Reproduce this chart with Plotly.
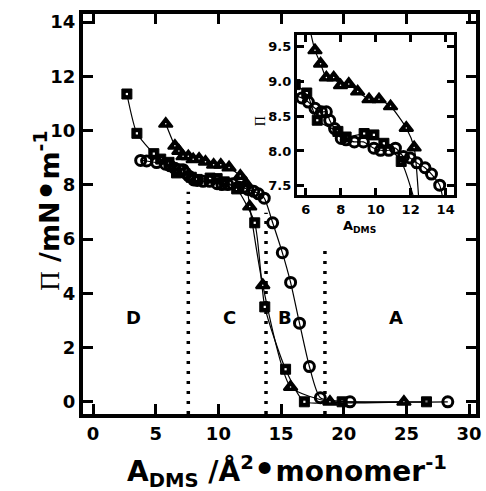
import plotly.graph_objects as go

# ---------------- data ----------------
sq_x = [2.7, 3.5, 4.85, 5.4, 6.06, 6.66, 7.84, 8.31, 9.34, 9.9, 10.47, 11.46, 12.9, 13.7, 15.36, 16.86, 19.87, 26.6]
sq_y = [11.35, 9.9, 9.15, 8.95, 8.83, 8.44, 8.28, 8.2, 8.25, 8.23, 8.11, 7.85, 6.6, 3.5, 1.2, 0.0, 0.0, 0.0]

tri_x = [5.8, 6.53, 6.85, 7.18, 7.6, 7.99, 8.46, 8.97, 9.62, 10.19, 10.85, 11.75, 12.2, 12.5, 13.54, 15.76, 18.9, 24.8]
tri_y = [10.25, 9.44, 9.25, 9.05, 9.05, 8.94, 8.96, 8.85, 8.74, 8.74, 8.64, 8.33, 8.05, 7.2, 4.3, 0.55, 0.0, 0.0]

cir_x = [3.8, 4.28, 5.07, 5.78, 6.15, 6.53, 6.9, 7.18, 7.37, 7.65, 8.03, 8.31, 8.78, 9.3, 9.9, 10.28,
         10.75, 11.13, 11.59, 11.97, 12.35, 12.82, 13.19, 13.66, 14.33, 15.1, 15.76, 16.47, 17.26,
         18.13, 20.5, 28.3]
cir_y = [8.9, 8.88, 8.82, 8.76, 8.7, 8.61, 8.56, 8.56, 8.44, 8.32, 8.18, 8.16, 8.13, 8.13, 8.04, 8.01,
         8.01, 8.04, 7.92, 7.9, 7.83, 7.76, 7.67, 7.51, 6.6, 5.5, 4.4, 2.9, 1.3,
         0.15, 0.0, 0.0]

region_labels = ["D", "C", "B", "A"]
region_label_x = [3.2, 10.9, 15.3, 24.2]
region_label_y = [3.1, 3.1, 3.1, 3.1]
boundary_x = [7.6, 13.8, 18.5]
boundary_top = [7.75, 6.97, 5.8]

main_xticks = [0, 5, 10, 15, 20, 25, 30]
main_yticks = [0, 2, 4, 6, 8, 10, 12, 14]
inset_xticks = [6, 8, 10, 12, 14]
inset_yticks = [7.5, 8.0, 8.5, 9.0, 9.5]

FONT = "DejaVu Sans"
BLACK = "black"
LINE = dict(color=BLACK, width=1.2, shape="spline", smoothing=0.6)

fig = go.Figure()


def add_series(xa, ya):
    # squares
    fig.add_trace(go.Scatter(
        x=sq_x, y=sq_y, xaxis=xa, yaxis=ya, mode="lines+markers", line=LINE,
        marker=dict(symbol="square", size=10, color=BLACK, line=dict(color=BLACK, width=1)),
        showlegend=False))
    fig.add_trace(go.Scatter(
        x=sq_x, y=sq_y, xaxis=xa, yaxis=ya, mode="markers",
        marker=dict(symbol="square", size=2.2, color="white", line=dict(width=0)),
        showlegend=False, hoverinfo="skip"))
    # triangles
    fig.add_trace(go.Scatter(
        x=tri_x, y=tri_y, xaxis=xa, yaxis=ya, mode="lines+markers", line=LINE,
        marker=dict(symbol="triangle-up", size=12, color=BLACK, line=dict(color=BLACK, width=2)),
        showlegend=False))
    fig.add_trace(go.Scatter(
        x=tri_x, y=tri_y, xaxis=xa, yaxis=ya, mode="markers",
        marker=dict(symbol="circle", size=1.5, color="white", line=dict(width=0)),
        showlegend=False, hoverinfo="skip"))
    # circles
    fig.add_trace(go.Scatter(
        x=cir_x, y=cir_y, xaxis=xa, yaxis=ya, mode="lines+markers", line=LINE,
        marker=dict(symbol="circle-open", size=10, color=BLACK, line=dict(color=BLACK, width=3)),
        showlegend=False))


# dotted boundaries (main plot)
for bx, bt in zip(boundary_x, boundary_top):
    fig.add_trace(go.Scatter(
        x=[bx, bx], y=[-0.45, bt], xaxis="x", yaxis="y", mode="lines",
        line=dict(color=BLACK, width=3.5, dash="3px,7px"), showlegend=False, hoverinfo="skip"))

add_series("x", "y")
add_series("x2", "y2")

for t, lx, ly in zip(region_labels, region_label_x, region_label_y):
    fig.add_annotation(x=lx, y=ly, xref="x", yref="y", text="<b>%s</b>" % t, showarrow=False,
                       font=dict(family=FONT, size=18, color=BLACK))

axis_common = dict(showline=True, linecolor=BLACK, mirror="ticks", ticks="inside",
                   tickcolor=BLACK, showgrid=False, zeroline=False)

fig.update_layout(
    width=486, height=491,
    margin=dict(l=83, r=4, t=14, b=77),
    paper_bgcolor="white", plot_bgcolor="white",
    xaxis=dict(range=[-0.8, 30.55], tickvals=main_xticks, linewidth=4, ticklen=10, tickwidth=3,
               tickfont=dict(family=FONT, size=18, color=BLACK, weight="bold"), **axis_common),
    yaxis=dict(range=[-0.45, 14.3], tickvals=main_yticks, linewidth=4, ticklen=10, tickwidth=3,
               tickfont=dict(family=FONT, size=18, color=BLACK, weight="bold"), **axis_common),
    xaxis2=dict(domain=[0.544, 0.945], anchor="y2", range=[5.49, 14.5], tickvals=inset_xticks,
                linewidth=3, ticklen=7, tickwidth=2.5,
                tickfont=dict(family=FONT, size=13, color=BLACK, weight="bold"), **axis_common),
    yaxis2=dict(domain=[0.5475, 0.9475], anchor="x2", range=[7.37, 9.66], tickvals=inset_yticks,
                tickformat=".1f", linewidth=3, ticklen=7, tickwidth=2.5,
                tickfont=dict(family=FONT, size=13, color=BLACK, weight="bold"), **axis_common),
)

# axis titles
fig.add_annotation(
    xref="paper", yref="paper", x=0.52, y=-0.14, yanchor="middle", showarrow=False,
    text="<b>A<sub>DMS</sub> /Å<sup>2</sup><span style='font-size:34px'>•</span>monomer<sup>-1</sup></b>",
    font=dict(family=FONT, size=28, color=BLACK))
fig.add_annotation(
    xref="paper", yref="paper", x=-0.148, y=0.5075, textangle=-90, showarrow=False,
    text="<span style='font-family:Liberation Serif;fill:black'>Π</span><b> /mN<span style='font-size:34px'>•</span>m<sup>-1</sup></b>",
    font=dict(family=FONT, size=27, color=BLACK))
# inset titles
fig.add_annotation(
    xref="paper", yref="paper", x=(382 - 83) / 399, y=(414 - 226) / 400, showarrow=False,
    text="<b>A<sub>DMS</sub></b>", font=dict(family=FONT, size=13, color=BLACK))
fig.add_annotation(
    xref="paper", yref="paper", x=(263 - 83) / 399, y=(414 - 114) / 400, textangle=-90, showarrow=False,
    text="<span style='font-family:Liberation Serif;fill:black'>Π</span>", font=dict(family=FONT, size=14, color=BLACK))

fig.write_html("out.html")
